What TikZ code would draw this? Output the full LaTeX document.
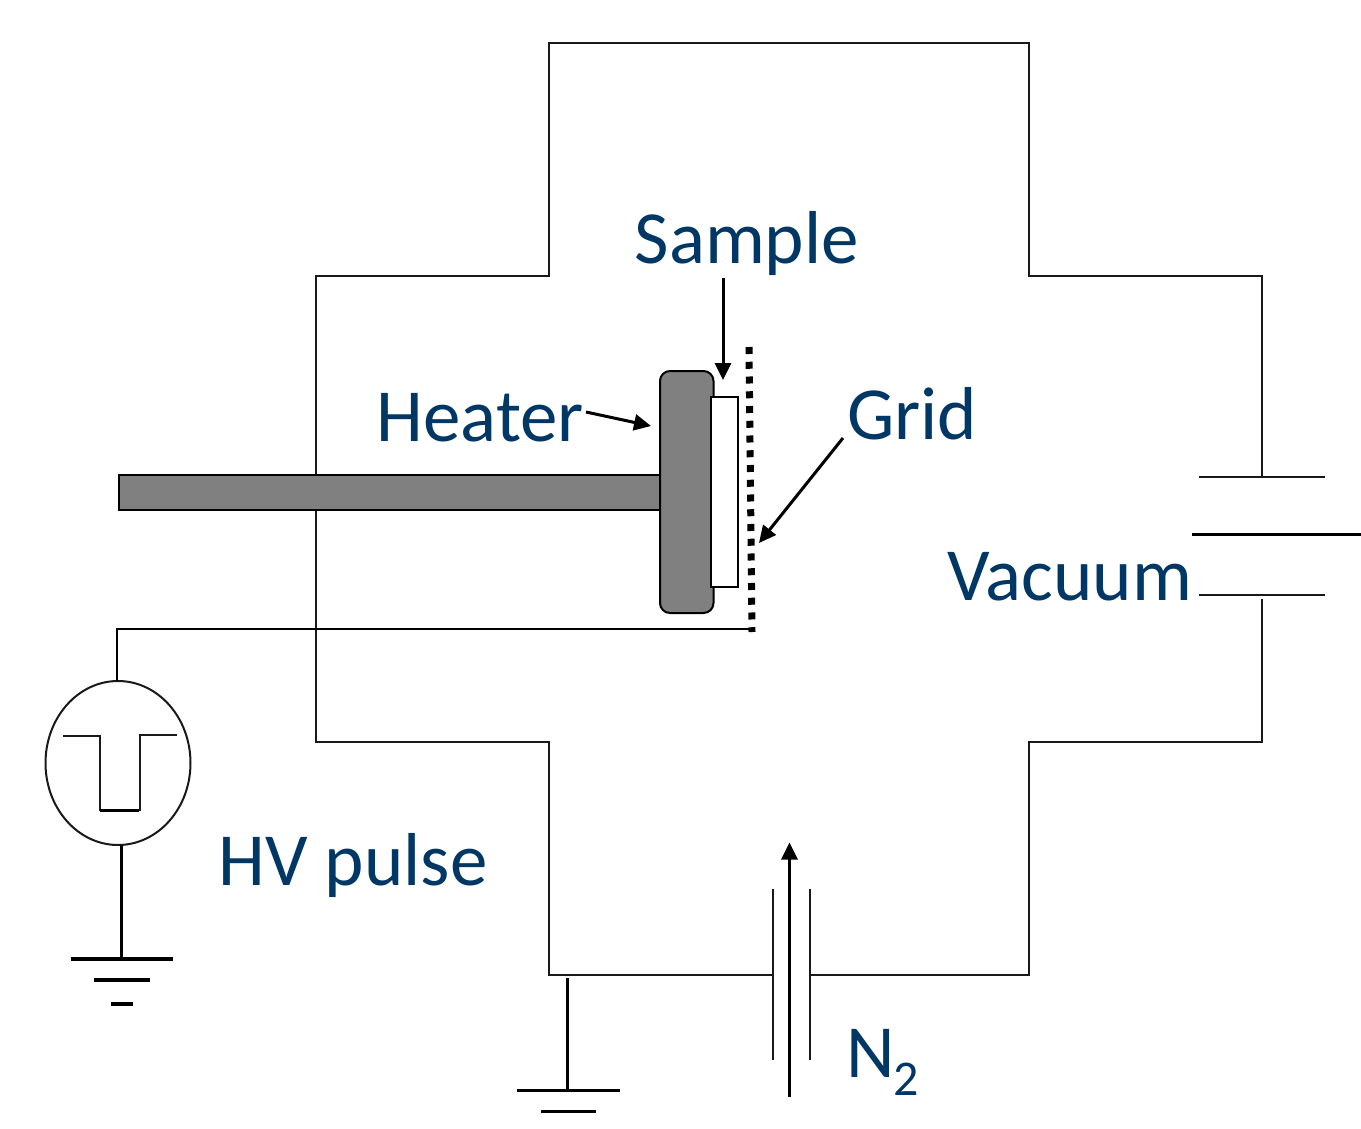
\documentclass[tikz,border=0pt]{standalone}
\usepackage{fontspec}
\setmainfont{Carlito}
\usetikzlibrary{arrows.meta,shapes.geometric}
\definecolor{labelblue}{HTML}{003764}
\definecolor{solidgrey}{HTML}{808080}
\tikzset{
  x=1pt,y=-1pt,
  thin line/.style={line width=2pt,black!90},
  wire line/.style={line width=2.4pt,black},
  heavy line/.style={line width=3.4pt,black},
  pointer/.style={line width=3pt,black,-{Triangle[length=17pt,width=16pt]}},
  lbl/.style={inner sep=0pt,anchor=base west,text=labelblue,font=\fontsize{75}{80}\selectfont},
  solid part/.style={draw=black,line width=2pt,fill=solidgrey},
}
\begin{document}
\begin{tikzpicture}
\useasboundingbox (0,0) rectangle (1361,1128);
% chamber
\coordinate (ventT) at (1262,477);
\coordinate (ventB) at (1262,599);
\coordinate (gasR) at (810,974.5);
\coordinate (gasL) at (772,974.5);
\draw[thin line,line join=miter] (ventT) -- (1262,275.5) -- (1029,275.5) -- (1029,43) -- (548.5,43) -- (548.5,275.5) -- (316,275.5) -- (316,741.5) -- (548.5,741.5) -- (548.5,974.5) -- (gasL);
\draw[thin line,line join=miter] (ventB) -- (1262,741.5) -- (1029,741.5) -- (1029,974.5) -- (gasR);
% vacuum port
\coordinate (v1a) at (1199,477); \coordinate (v1b) at (1325,477);
\coordinate (v2a) at (1192,534.5); \coordinate (v2b) at (1361,534.5);
\coordinate (v3a) at (1199,595); \coordinate (v3b) at (1325,595);
\draw[thin line] (v1a) -- (v1b);
\draw[heavy line] (v2a) -- (v2b);
\draw[thin line] (v3a) -- (v3b);
% gas port
\coordinate (p1a) at (772.5,889); \coordinate (p1b) at (772.5,1060);
\coordinate (p2a) at (809.5,889); \coordinate (p2b) at (809.5,1060);
\draw[thin line] (p1a) -- (p1b);
\draw[thin line] (p2a) -- (p2b);
\coordinate (gasS) at (789.5,1096.5); \coordinate (gasE) at (789.5,842.5);
\draw[pointer,line width=3.2pt] (gasS) -- (gasE);
% chamber ground
\coordinate (g2t) at (567.5,978); \coordinate (g2m) at (567.5,1090);
\coordinate (g2a) at (516.5,1090.5); \coordinate (g2b) at (619.5,1090.5);
\coordinate (g2c) at (540.5,1111.5); \coordinate (g2d) at (595.5,1111.5);
\draw[wire line,line width=3pt] (g2t) -- (g2m);
\draw[heavy line] (g2a) -- (g2b);
\draw[heavy line] (g2c) -- (g2d);
% holder
\node[solid part,minimum width=542pt,minimum height=35pt,inner sep=0pt,anchor=north west] (rod) at (118,474) {};
\node[solid part,rounded corners=10pt,minimum width=53.5pt,minimum height=242pt,inner sep=0pt,anchor=north west] (heater) at (659,370) {};
\node[draw=black,line width=2pt,fill=white,minimum width=27pt,minimum height=190pt,inner sep=0pt,anchor=north west] (sample) at (709.5,395.5) {};
% grid
\coordinate (gridT) at (749,347); \coordinate (gridB) at (752,632);
\draw[line width=7pt,black,dash pattern=on 7pt off 7.75pt] (gridT) -- (gridB);
% pulse source
\node[draw=black!90,line width=2pt,ellipse,minimum width=145pt,minimum height=164pt,inner sep=0pt] (src) at (118,763) {};
\coordinate (wireE) at (751,629);
\draw[wire line] (wireE) -- (117,629) -- (117,681);
\draw[thin line,line join=miter] (63,735.5) -- (100,735.5) -- (100,810) -- (140,810) -- (140,734.5) -- (177,734.5);
\draw[line width=3pt,black] (100,810) -- (139,810);
% pulse ground
\coordinate (g1t) at (121.5,845); \coordinate (g1m) at (121.5,959);
\coordinate (g1a) at (70.5,959); \coordinate (g1b) at (173,959);
\coordinate (g1c) at (94,980); \coordinate (g1d) at (150,980);
\coordinate (g1e) at (111,1004); \coordinate (g1f) at (133,1004);
\draw[wire line,line width=3pt] (g1t) -- (g1m);
\draw[heavy line] (g1a) -- (g1b);
\draw[heavy line] (g1c) -- (g1d);
\draw[heavy line] (g1e) -- (g1f);
% labels
\node[lbl] (lsample) at (634.5,263.5) {Sample};
\node[lbl] (lheater) at (376.5,441) {Heater};
\node[lbl] (lgrid) at (847,439) {Grid};
\node[lbl] (lvac) at (947,600) {Vacuum};
\node[lbl] (lhv) at (218.5,885) {HV pulse};
\node[lbl] (ln2) at (846.5,1077) {N\kern-2pt\raisebox{-18pt}{\fontsize{50}{52}\selectfont 2}};
% pointers
\coordinate (aS) at (723,278); \coordinate (aSe) at (723,380);
\coordinate (aH) at (586,412); \coordinate (aHe) at (651,426);
\coordinate (aG) at (843,438); \coordinate (aGe) at (759,543);
\draw[pointer] (aS) -- (aSe);
\draw[pointer] (aH) -- (aHe);
\draw[pointer] (aG) -- (aGe);
\end{tikzpicture}
\end{document}
